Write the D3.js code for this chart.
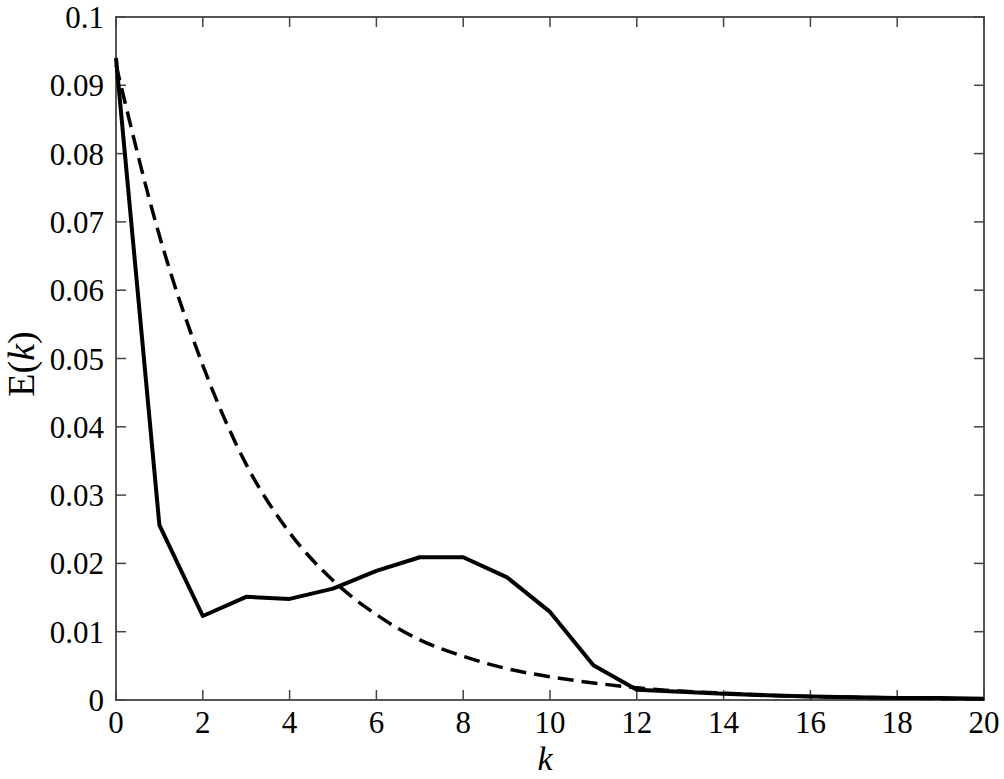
<!DOCTYPE html>
<html>
<head>
<meta charset="utf-8">
<script src="https://cdn.jsdelivr.net/npm/d3@7"></script>
<style>
  body { margin: 0; background: #fff; }
  svg text { font-family: "Liberation Serif", "DejaVu Serif", "Times New Roman", serif; fill: #000; }
</style>
</head>
<body>
<script>
const W = 1004
const H = 779

// data
const k = d3.range(0, 21)
const solid = [0.094, 0.0256, 0.0123, 0.0151, 0.0148, 0.0163, 0.0189, 0.0209, 0.0209, 0.018,
  0.0129, 0.0051, 0.0015, 0.0012, 0.0009, 0.0007, 0.0005, 0.0004, 0.0003, 0.0003, 0.0002]
const dashed = [0.093, 0.068, 0.049, 0.0345, 0.0245, 0.0175, 0.0125, 0.0088, 0.0064, 0.0046,
  0.0034, 0.0025, 0.0018, 0.0013, 0.001, 0.0007, 0.0005, 0.0004, 0.0003, 0.0002, 0.0002]
const xTicks = [0, 2, 4, 6, 8, 10, 12, 14, 16, 18, 20]
const yTicks = [0, 0.01, 0.02, 0.03, 0.04, 0.05, 0.06, 0.07, 0.08, 0.09, 0.1]
const yLabels = ["0", "0.01", "0.02", "0.03", "0.04", "0.05", "0.06", "0.07", "0.08", "0.09", "0.1"]

const m = { left: 116, right: 984, top: 17, bottom: 700 }

const svg = d3.select("body").append("svg")
  .attr("width", W)
  .attr("height", H)

const x = d3.scaleLinear().domain([0, 20]).range([m.left, m.right])
const y = d3.scaleLinear().domain([0, 0.1]).range([m.bottom, m.top])

const axisColor = "#444"
const tickLen = 10

// frame
svg.append("rect")
  .attr("x", m.left).attr("y", m.top)
  .attr("width", m.right - m.left).attr("height", m.bottom - m.top)
  .attr("fill", "none").attr("stroke", axisColor).attr("stroke-width", 1.8)

// bottom + top ticks (inward)
const gx = svg.append("g")
xTicks.forEach(t => {
  gx.append("line").attr("x1", x(t)).attr("x2", x(t))
    .attr("y1", m.bottom).attr("y2", m.bottom - tickLen)
    .attr("stroke", axisColor).attr("stroke-width", 1.5)
  gx.append("line").attr("x1", x(t)).attr("x2", x(t))
    .attr("y1", m.top).attr("y2", m.top + tickLen)
    .attr("stroke", axisColor).attr("stroke-width", 1.5)
  gx.append("text").text(t)
    .attr("x", x(t)).attr("y", m.bottom + 33)
    .attr("text-anchor", "middle")
    .attr("font-size", 31)
})

// left + right ticks
const gy = svg.append("g")
yTicks.forEach((t, i) => {
  gy.append("line").attr("x1", m.left).attr("x2", m.left + tickLen)
    .attr("y1", y(t)).attr("y2", y(t))
    .attr("stroke", axisColor).attr("stroke-width", 1.5)
  gy.append("line").attr("x1", m.right).attr("x2", m.right - tickLen)
    .attr("y1", y(t)).attr("y2", y(t))
    .attr("stroke", axisColor).attr("stroke-width", 1.5)
  gy.append("text").text(yLabels[i])
    .attr("x", m.left - 12).attr("y", y(t) + 11)
    .attr("text-anchor", "end")
    .attr("font-size", 31)
})

// axis titles
svg.append("text")
  .attr("x", x(10) - 5).attr("y", 770)
  .attr("text-anchor", "middle")
  .attr("font-size", 34)
  .attr("font-style", "italic")
  .text("k")

const yt = svg.append("text")
  .attr("transform", "translate(34,364) rotate(-90)")
  .attr("text-anchor", "middle")
  .attr("font-size", 38)
yt.append("tspan").text("E(")
yt.append("tspan").attr("font-style", "italic").text("k")
yt.append("tspan").text(")")

// curves
const lineSolid = d3.line()
  .x((d, i) => x(k[i]))
  .y(d => y(d))

const lineDashed = d3.line()
  .x((d, i) => x(k[i]))
  .y(d => y(d))
  .curve(d3.curveMonotoneX)

svg.append("path")
  .datum(dashed)
  .attr("d", lineDashed)
  .attr("fill", "none")
  .attr("stroke", "#000")
  .attr("stroke-width", 3.5)
  .attr("stroke-dasharray", "16,8")

svg.append("path")
  .datum(solid)
  .attr("d", lineSolid)
  .attr("fill", "none")
  .attr("stroke", "#000")
  .attr("stroke-width", 4)
  .attr("stroke-linejoin", "round")
</script>
</body>
</html>
